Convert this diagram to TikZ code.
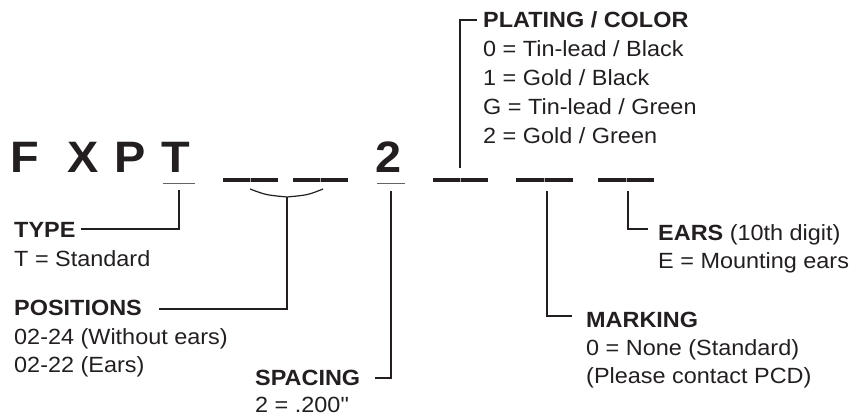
\documentclass[tikz,border=0pt]{standalone}
\usepackage{fontspec}
\setmainfont{Liberation Sans}[FakeStretch=1.065]
\usetikzlibrary{calc}
\definecolor{ink}{HTML}{231F20}
\tikzset{
  hdr/.style={anchor=base west, inner sep=0pt, text=ink, font=\fontsize{22}{26}\selectfont\bfseries},
  txt/.style={anchor=base west, inner sep=0pt, text=ink, font=\fontsize{22}{26}\selectfont},
  ttl/.style={anchor=base west, inner sep=0pt, text=ink, font=\fontsize{44}{50}\selectfont\bfseries},
  conn/.style={draw=ink, line width=1.2pt},
  uline/.style={draw=ink!70, line width=1pt},
  blank/.style={draw=ink, line width=4.3pt},
  seam/.style={draw=white!60!ink, line width=0.7pt}
}
\begin{document}
\begin{tikzpicture}[x=1pt,y=-1pt]
\useasboundingbox (0,0) rectangle (858,415);
% title
\node[ttl] (tF) at (10,172) {F};
\node[ttl] (tX) at (67,172) {X};
\node[ttl] (tP) at (114,172) {P};
\node[ttl] (tT) at (161,172) {T};
\node[ttl] (t2) at (375,172) {2};
% underlines
\coordinate (uTa) at (163,183); \coordinate (uTb) at (195,183);
\coordinate (u2a) at (377,183); \coordinate (u2b) at (405,183);
\draw[uline] (uTa) -- (uTb);
\draw[uline] (u2a) -- (u2b);
% blanks
\foreach \a/\b/\n in {223/278/1, 293/348/2, 433/488/3, 516/573/4, 598/654/5}{
  \coordinate (d\n a) at (\a,180);
  \coordinate (d\n b) at (\b,180);
  \draw[blank] (d\n a) -- (d\n b);
  \draw[seam] ($(d\n a)!0.5!(d\n b)+(0,-2)$) -- ($(d\n a)!0.5!(d\n b)+(0,2)$);
}
% text blocks
\node[hdr] (type) at (14,237) {TYPE};
\node[txt] (type1) at (14,266) {T = Standard};
\node[hdr] (pos) at (14,315) {POSITIONS};
\node[txt] (pos1) at (14,344) {02-24 (Without ears)};
\node[txt] (pos2) at (14,372) {02-22 (Ears)};
\node[hdr] (spc) at (255,385) {SPACING};
\node[txt] (spc1) at (255,412) {2 = .200\textquotedbl};
\node[hdr] (plt) at (483,27) {PLATING / COLOR};
\node[txt] (plt1) at (483,56) {0 = Tin-lead / Black};
\node[txt] (plt2) at (483,85) {1 = Gold / Black};
\node[txt] (plt3) at (483,114) {G = Tin-lead / Green};
\node[txt] (plt4) at (483,143) {2 = Gold / Green};
\node[hdr] (ears) at (658,240) {EARS \mdseries(10th digit)};
\node[txt] (ears1) at (658,268) {E = Mounting ears};
\node[hdr] (mrk) at (586,327) {MARKING};
\node[txt] (mrk1) at (586,355) {0 = None (Standard)};
\node[txt] (mrk2) at (586,383) {(Please contact PCD)};
% connector anchors
\coordinate (cT) at (179,190);
\coordinate (bL) at (250,189);
\coordinate (bM) at (287,197);
\coordinate (bR) at (323,189);
\coordinate (cS) at (391,191);
\coordinate (cP) at (460,168);
\coordinate (cM) at (547,191);
\coordinate (cE) at (628,191);
% connectors
\draw[conn] (cT) |- ($(type.base east)+(5,-8)$);
\draw[conn] (bL) .. controls (266,195) .. (bM) .. controls (308,195) .. (bR);
\draw[conn] (bM) |- ($(pos.base east)+(17,-6)$);
\draw[conn] (cS) |- ($(spc.base east)+(15,-7)$);
\draw[conn] (cP) |- ($(plt.base west)+(-6,-7)$);
\draw[conn] (cM) |- ($(mrk.base west)+(-14,-11)$);
\draw[conn] (cE) |- ($(ears.base west)+(-10,-11)$);
\end{tikzpicture}
\end{document}
